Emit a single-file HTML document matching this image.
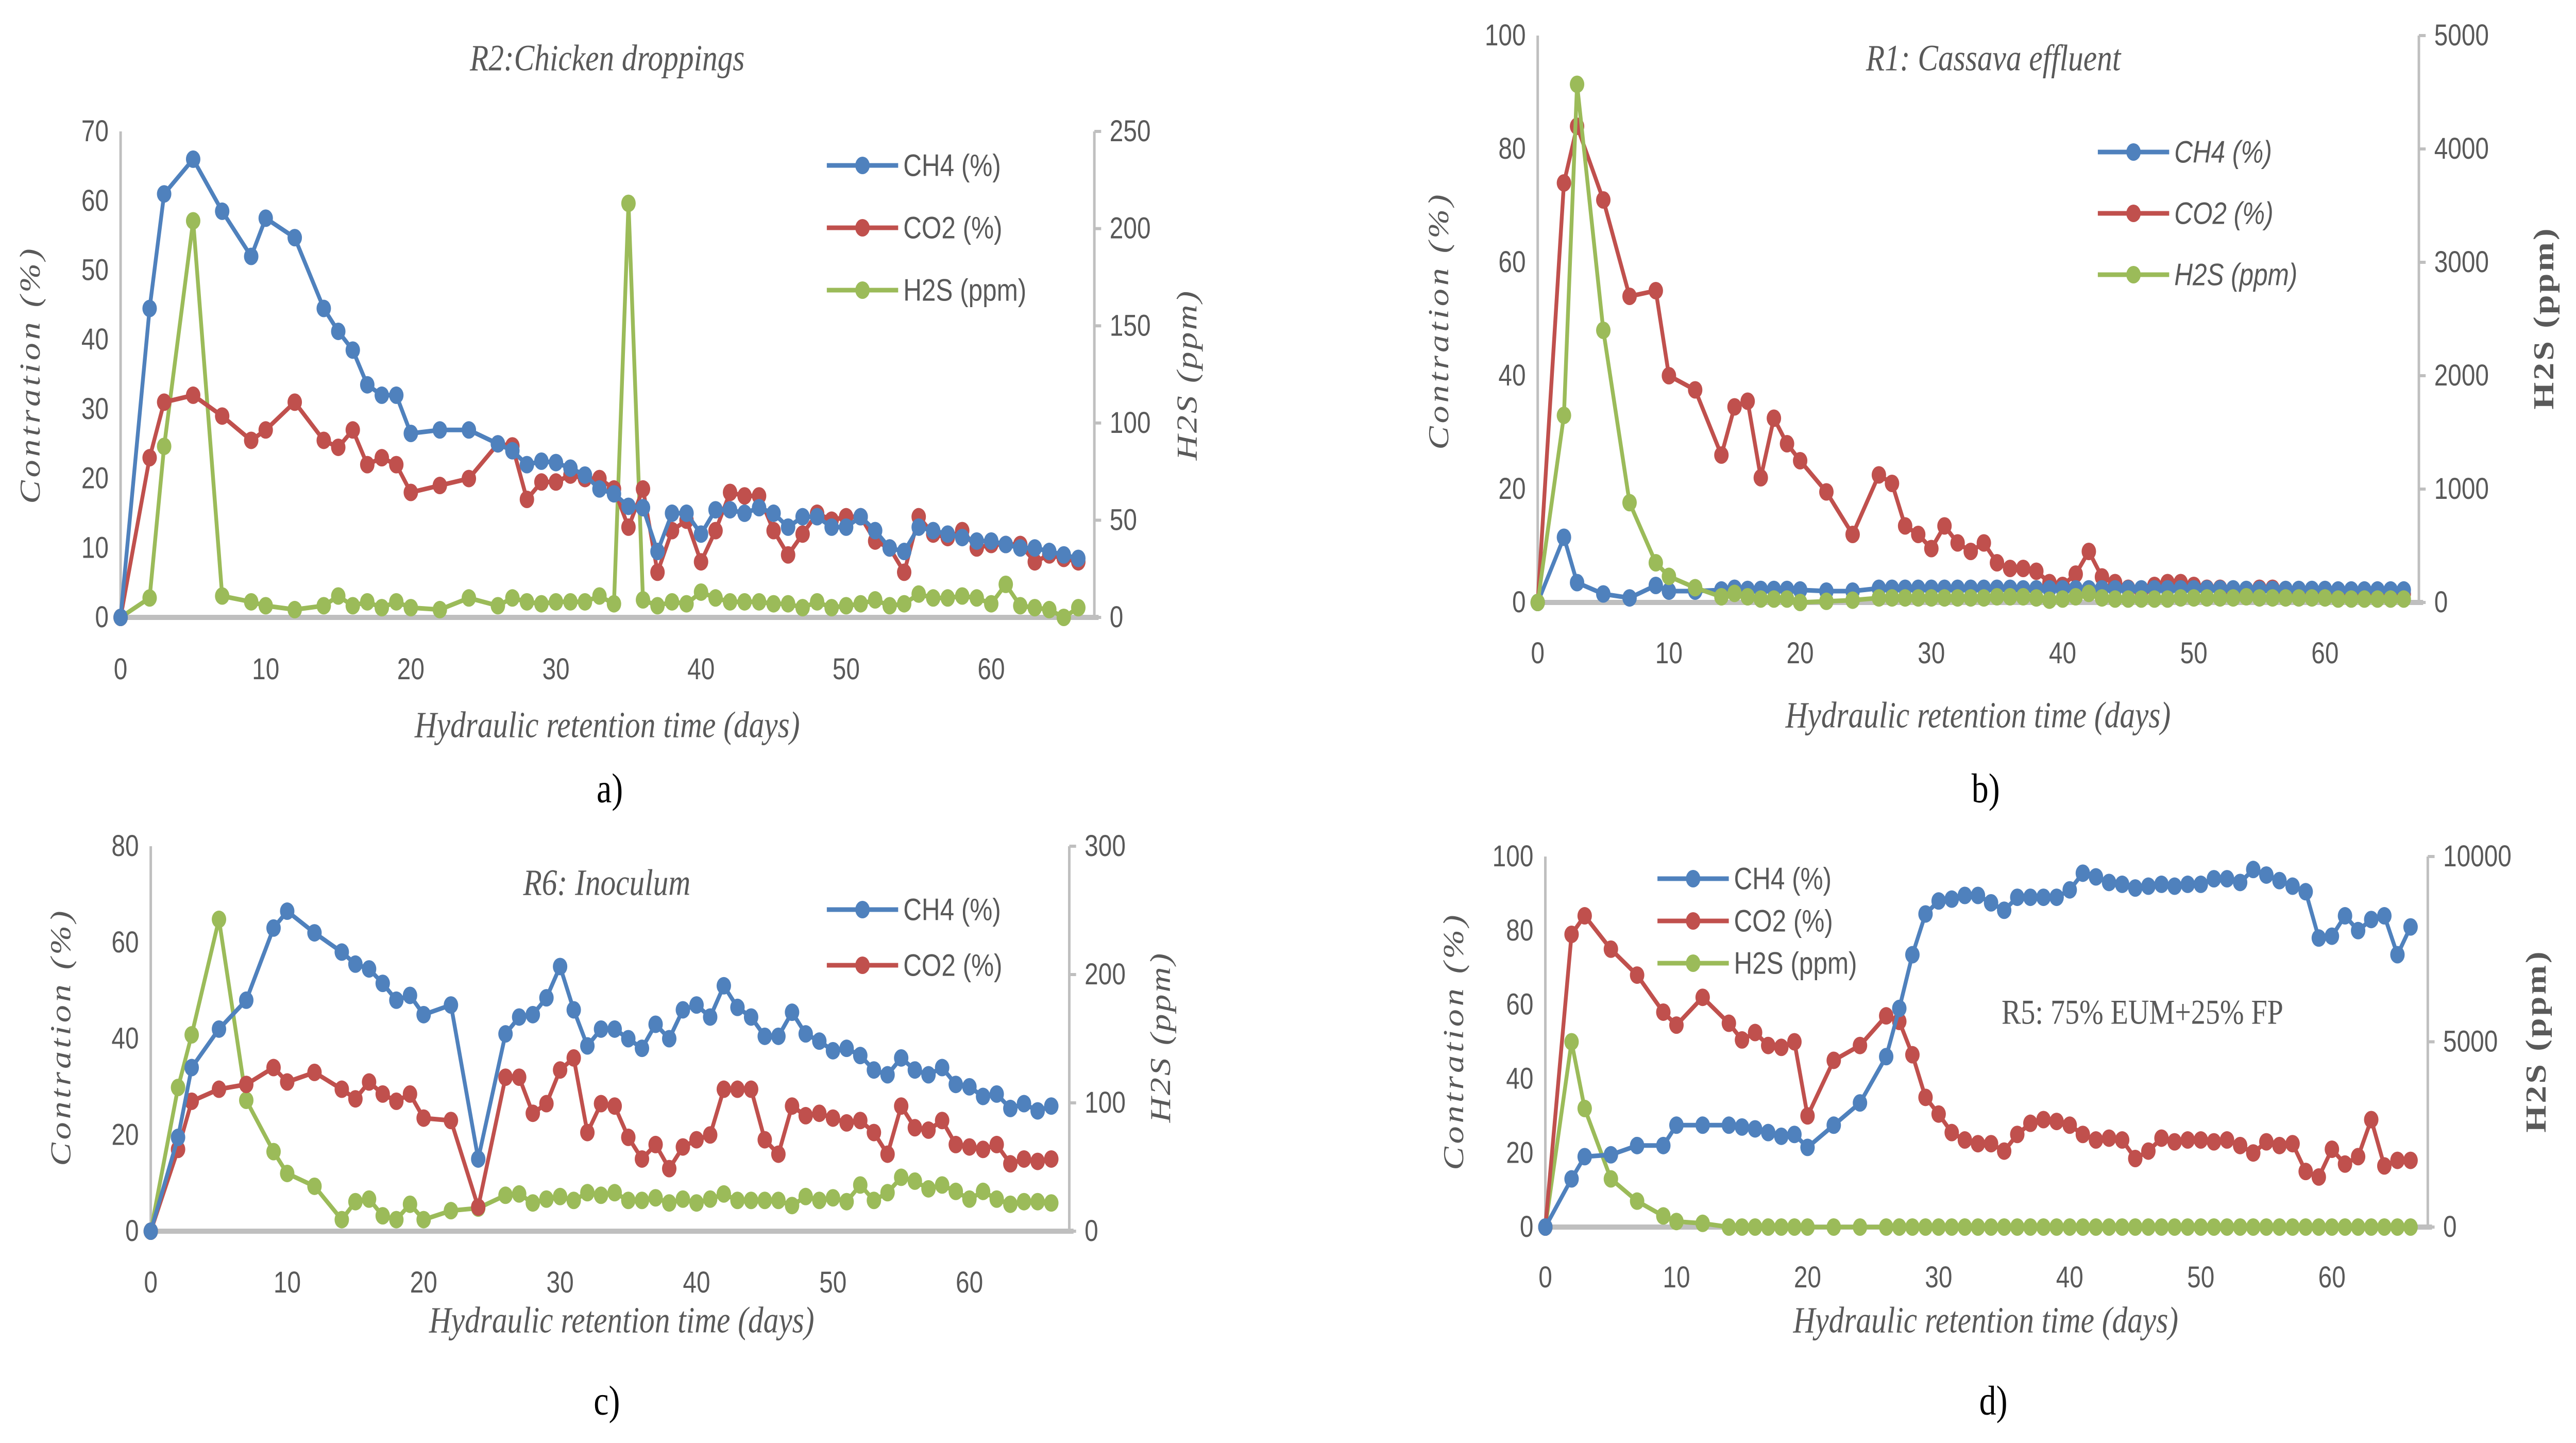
<!DOCTYPE html>
<html><head><meta charset="utf-8">
<style>
html,body{margin:0;padding:0;background:#fff;overflow:hidden;width:100vw;height:100vh;}
svg{display:block;width:100vw;height:100vh;}
text{font-family:"Liberation Sans",sans-serif;fill:#595959;}
.ser{font-family:"Liberation Serif",serif;}
</style></head>
<body>
<svg id="fig" viewBox="0 0 6066 2800" preserveAspectRatio="none" xmlns="http://www.w3.org/2000/svg"></svg>
<script>
const days = [0,2,3,5,7,9,10,12,14,15,16,17,18,19,20,22,24,26,27,28,29,30,31,32,33,34,35,36,37,38,39,40,41,42,43,44,45,46,47,48,49,50,51,52,53,54,55,56,57,58,59,60,61,62,63,64,65,66];
const xTicks = [0,10,20,30,40,50,60];

const aCH4 = [0,44.5,61,66,58.5,52,57.5,54.7,44.5,41.2,38.5,33.5,32,32,26.5,27,27,25, 24,22,22.5,22.3,21.5,20.5,18.5,17.8,16,15.8, 9.5,15,15,12,15.5,15.5,15,15.8,15,13, 14.5,14.5,13,13,14.5,12.5,10,9.5,13,12.5, 12,11.5,11,11,10.5,10,10,9.5,9,8.5];
const aCO2 = [0,23,31,32,29,25.5,27,31,25.5,24.5,27,22,23,22,18,19,20,25, 24.7,17,19.5,19.5,20.5,20,20,18.5,13,18.5, 6.5,12.5,14,8,12.5,18,17.5,17.5,12.5,9, 12,15,14,14.5,14.5,11,10,6.5,14.5,12, 11.5,12.5,10,10.5,10.5,10.5,8,9,8.5,8];
const aH2S = [0,10,88,204,11,8,6,4,6,11,6,8,5,8,5,4,10,6, 10,8,7,8,8,8,11,7,213,9, 6,8,7,13,10,8,8,8,7,7, 5,8,5,6,7,9,6,7,12,10, 10,11,10,7,17,6,5,4,0,5];
const aLeftTicks = [0,10,20,30,40,50,60,70];
const aRightTicks = [0,50,100,150,200,250];

const bCH4 = [0,11.5,3.5,1.5,0.8,3,2,2,2.2,2.5,2.3,2.3,2.3,2.3,2.2,2,2,2.5, 2.5,2.5,2.5,2.5,2.5,2.5,2.5,2.5,2.5,2.5, 2.4,2.4,2.4,2.4,2.4,2.4,2.4,2.4,2.4,2.4, 2.4,2.4,2.4,2.4,2.4,2.4,2.4,2.3,2.3,2.3, 2.3,2.3,2.3,2.3,2.2,2.2,2.2,2.2,2.2,2.2];
const bCO2 = [0,74,84,71,54,55,40,37.5,26,34.5,35.5,22,32.5,28,25,19.5,12,22.5, 21,13.5,12,9.5,13.5,10.5,9,10.5,7,6, 6,5.5,3.5,3,5,9,4.5,3.5,2.5,2, 3,3.5,3.5,3,2.5,2.5,2,2,2.5,2.5, 2,2,2,2,1.8,1.8,1.5,1.5,1.5,1.5];
const bH2S = [0,1650,4570,2400,880,350,230,130,50,80,50,30,30,30,0,10,20,40, 40,40,40,40,40,40,40,40,50,50, 50,40,20,30,50,80,40,30,30,30, 30,30,40,40,40,40,40,50,40,40, 40,40,40,40,30,30,30,30,30,30];
const bLeftTicks = [0,20,40,60,80,100];
const bRightTicks = [0,1000,2000,3000,4000,5000];

const cCH4 = [0,19.5,34,42,48,63,66.5,62,58,55.5,54.5,51.5,48,49,45,47,15,41, 44.5,45,48.5,55,46,38.5,42,42,40,38, 43,40,46,47,44.5,51,46.5,44.5,40.5,40.5, 45.5,41,39.5,37.5,38,36.5,33.5,32.5,36,33.5, 32.5,34,30.5,30,28,28.5,25.5,26.5,25,26];
const cCO2 = [0,17,27,29.5,30.5,34,31,33,29.5,27.5,31,28.5,27,28.5,23.5,23,5,32, 32,24.5,26.5,33.5,36,20.5,26.5,26,19.5,15, 18,13,17.5,19,20,29.5,29.5,29.5,19,16, 26,24,24.5,23.5,22.5,23,20.5,16,26,21.5, 21,23,18,17.5,17,18,14,15,14.5,15];
const cH2S = [0,112,153,243,102,62,45,35,9,23,25,12,9,21,9,16,18,28, 29,22,25,27,24,30,28,30,24,24, 26,22,25,22,25,29,24,24,24,24, 20,27,24,26,23,36,24,30,42,39, 33,36,31,25,31,25,21,23,23,22];
const cLeftTicks = [0,20,40,60,80];
const cRightTicks = [0,100,200,300];

const dCH4 = [0,13,19,19.5,22,22,27.5,27.5,27.5,27,26.5,25.5,24.5,25,21.5,27.5,33.5,46, 59,73.5,84.5,88,88.5,89.5,89.5,87.5,85.5,89, 89,89,89,91,95.5,94.5,93,92.5,91.5,92, 92.5,92,92.5,92.5,94,94,93,96.5,95,93.5, 92,90.5,78,78.5,84,80,83,84,73.5,81];
const dCO2 = [0,79,84,75,68,58,54.5,62,55,50.5,52.5,49,48.5,50,30,45,49,57, 55.5,46.5,35,30.5,25.5,23.5,22.5,22.5,20.5,25, 28,29,28.5,27.5,25,23.5,24,23.5,18.5,20.5, 24,23,23.5,23.5,23,23.5,22,20,23,22, 22.5,15,13.5,21,17,19,29,16.5,18,18];
const dH2S = [0,5000,3200,1300,700,300,150,100,0,0,0,0,0,0,0,0,0,0, 0,0,0,0,0,0,0,0,0,0, 0,0,0,0,0,0,0,0,0,0, 0,0,0,0,0,0,0,0,0,0, 0,0,0,0,0,0,0,0,0,0];
const dLeftTicks = [0,20,40,60,80,100];
const dRightTicks = [0,5000,10000];

const NS = "http://www.w3.org/2000/svg";
const svg = document.getElementById('fig');
const COLORS = {CH4:'#4f81bd', CO2:'#c0504d', H2S:'#9bbb59'};

function mk(tag, attrs, parent){
  const e = document.createElementNS(NS, tag);
  for (const k in attrs) e.setAttribute(k, attrs[k]);
  (parent||svg).appendChild(e);
  return e;
}
function txt(parent, x, y, s, size, anchor, extra){
  const t = mk('text', Object.assign({x:x, y:y, 'font-size':size, 'text-anchor':anchor||'middle', 'dominant-baseline':'central'}, extra||{}), parent);
  t.textContent = s;
  return t;
}

function chart(cfg){
  const g = mk('g', {});
  
  
  const xs = d => cfg.x0 + d*cfg.dayPx;
  const yl = v => cfg.y0 - (v/cfg.lMax)*(cfg.y0-cfg.yTop);
  const yr = v => cfg.y0 - (v/cfg.rMax)*(cfg.y0-cfg.yTop);
  const xEnd = cfg.rx;
  const la = mk('line', {x1:cfg.x0, y1:cfg.yTop, x2:cfg.x0, y2:cfg.y0, stroke:'#bfbfbf', 'stroke-width':6}, g);
  
  
  const ra = mk('line', {x1:cfg.rx, y1:cfg.yTop, x2:cfg.rx, y2:cfg.y0, stroke:'#bfbfbf', 'stroke-width':6}, g);
  
  
  const xa = mk('line', {x1:cfg.x0, y1:cfg.y0, x2:xEnd+10, y2:cfg.y0, stroke:'#bfbfbf', 'stroke-width':10}, g);
  
  
  cfg.lTicks.forEach(v => {
    const t = txt(g, cfg.x0-28, yl(v), String(v), 58, 'end');
    
    
  });
  cfg.rTicks.forEach(v => {
    const tk = mk('line', {x1:cfg.rx, y1:yr(v), x2:cfg.rx+16, y2:yr(v), stroke:'#bfbfbf', 'stroke-width':6}, g);
    
    
    const t = txt(g, cfg.rx+36, yr(v), String(v), 58, 'start');
    
    
  });
  xTicks.forEach(v => {
    const t = txt(g, xs(v), cfg.xLabelY, String(v), 58, 'middle');
    
    
  });
  const series = [
    {key:'H2S', vals:cfg.h2s, sc:yr},
    {key:'CO2', vals:cfg.co2, sc:yl},
    {key:'CH4', vals:cfg.ch4, sc:yl}
  ];
  const order = cfg.order || ['H2S','CO2','CH4'];
  order.forEach(k => {
    const s = series.find(q => q.key===k);
    if (!s.vals) return;
    const sg = mk('g', {}, g);
    
    
    const pts = days.map((d,i) => xs(d).toFixed(1)+','+s.sc(s.vals[i]).toFixed(1)).join(' ');
    const pl = mk('polyline', {points:pts, fill:'none', stroke:COLORS[k], 'stroke-width':9, 'stroke-linejoin':'round'}, sg);
    
    
    days.forEach((d,i) => {
      const c = mk('circle', {cx:xs(d), cy:s.sc(s.vals[i]), r:17, fill:COLORS[k]}, sg);
      
      
    });
  });
  cfg.legend.forEach((L,i) => {
    const lg = mk('g', {}, g);
    
    
    mk('line', {x1:cfg.legX, y1:L.y, x2:cfg.legX+168, y2:L.y, stroke:COLORS[L.k], 'stroke-width':9}, lg);
    mk('circle', {cx:cfg.legX+84, cy:L.y, r:17, fill:COLORS[L.k]}, lg);
    txt(lg, cfg.legX+180, L.y, L.label, 60, 'start', cfg.legItalic?{'font-style':'italic'}:{});
  });
  if (cfg.title){
    const t = txt(g, cfg.title.x, cfg.title.y, cfg.title.s, cfg.title.size||72, 'middle', {'class':'ser','font-style':cfg.title.italic===false?'normal':'italic'});
    
    
  }
  const xt = txt(g, cfg.xTitle.x, cfg.xTitle.y, 'Hydraulic retention time (days)', 72, 'middle', {'class':'ser','font-style':'italic'});
  
  
  const yt = txt(g, 0, 0, 'Contration (%)', 68, 'middle', {'class':'ser','font-style':'italic','letter-spacing':'6', transform:'translate('+cfg.yTitle.x+','+cfg.yTitle.y+') rotate(-90)'});
  
  
  const rt = txt(g, 0, 0, 'H2S (ppm)', 68, 'middle', {'class':'ser','font-style':cfg.rTitle.italic?'italic':'normal','font-weight':cfg.rTitle.italic?'normal':'bold','letter-spacing':'4', transform:'translate('+cfg.rTitle.x+','+cfg.rTitle.y+') rotate(-90)'});
  
  
  const pl = txt(g, cfg.panel.x, cfg.panel.y, cfg.panel.s, 80, 'middle', {'class':'ser'});
  
  
  pl.style.fill = '#000';
  return g;
}

chart({name:'chart-a-chicken-droppings', x0:284, dayPx:34.17, y0:1198, yTop:255, lMax:70, rMax:250, rx:2577,
  lTicks:aLeftTicks, rTicks:aRightTicks, xLabelY:1299, ch4:aCH4, co2:aCO2, h2s:aH2S,
  legX:1947, legend:[{k:'CH4',y:321,label:'CH4 (%)'},{k:'CO2',y:442,label:'CO2 (%)'},{k:'H2S',y:563,label:'H2S (ppm)'}],
  title:{x:1430,y:113,s:'R2:Chicken droppings'}, xTitle:{x:1430,y:1407}, yTitle:{x:71,y:727}, rTitle:{x:2795,y:727,italic:true},
  panel:{x:1436,y:1530,s:'a)'}});

chart({name:'chart-b-cassava-effluent', x0:3621, dayPx:30.9, y0:1169, yTop:69, lMax:100, rMax:5000, rx:5696,
  lTicks:bLeftTicks, rTicks:bRightTicks, xLabelY:1268, ch4:bCH4, co2:bCO2, h2s:bH2S, order:['CO2','CH4','H2S'],
  legX:4940, legItalic:true, legend:[{k:'CH4',y:295,label:'CH4 (%)'},{k:'CO2',y:414,label:'CO2 (%)'},{k:'H2S',y:533,label:'H2S (ppm)'}],
  title:{x:4694,y:113,s:'R1: Cassava effluent'}, xTitle:{x:4658,y:1388}, yTitle:{x:3388,y:622}, rTitle:{x:5990,y:617,italic:false},
  panel:{x:4676,y:1530,s:'b)'}});

chart({name:'chart-c-inoculum', x0:355, dayPx:32.13, y0:2389, yTop:1642, lMax:80, rMax:300, rx:2518,
  lTicks:cLeftTicks, rTicks:cRightTicks, xLabelY:2489, ch4:cCH4, co2:cCO2, h2s:cH2S,
  legX:1947, legend:[{k:'CH4',y:1765,label:'CH4 (%)'},{k:'CO2',y:1873,label:'CO2 (%)'}],
  title:{x:1429,y:1713,s:'R6: Inoculum'}, xTitle:{x:1464,y:2562}, yTitle:{x:143,y:2012}, rTitle:{x:2733,y:2012,italic:true},
  panel:{x:1429,y:2718,s:'c)'}});

chart({name:'chart-d-r5-mix', x0:3639, dayPx:30.87, y0:2381, yTop:1662, lMax:100, rMax:10000, rx:5717,
  lTicks:dLeftTicks, rTicks:dRightTicks, xLabelY:2479, ch4:dCH4, co2:dCO2, h2s:dH2S,
  legX:3903, legend:[{k:'CH4',y:1705,label:'CH4 (%)'},{k:'CO2',y:1787,label:'CO2 (%)'},{k:'H2S',y:1869,label:'H2S (ppm)'}],
  title:{x:5045,y:1964,s:'R5: 75% EUM+25% FP',italic:false,size:68}, xTitle:{x:4676,y:2562}, yTitle:{x:3423,y:2020}, rTitle:{x:5972,y:2020,italic:false},
  panel:{x:4694,y:2718,s:'d)'}});
</script>
</body></html>
